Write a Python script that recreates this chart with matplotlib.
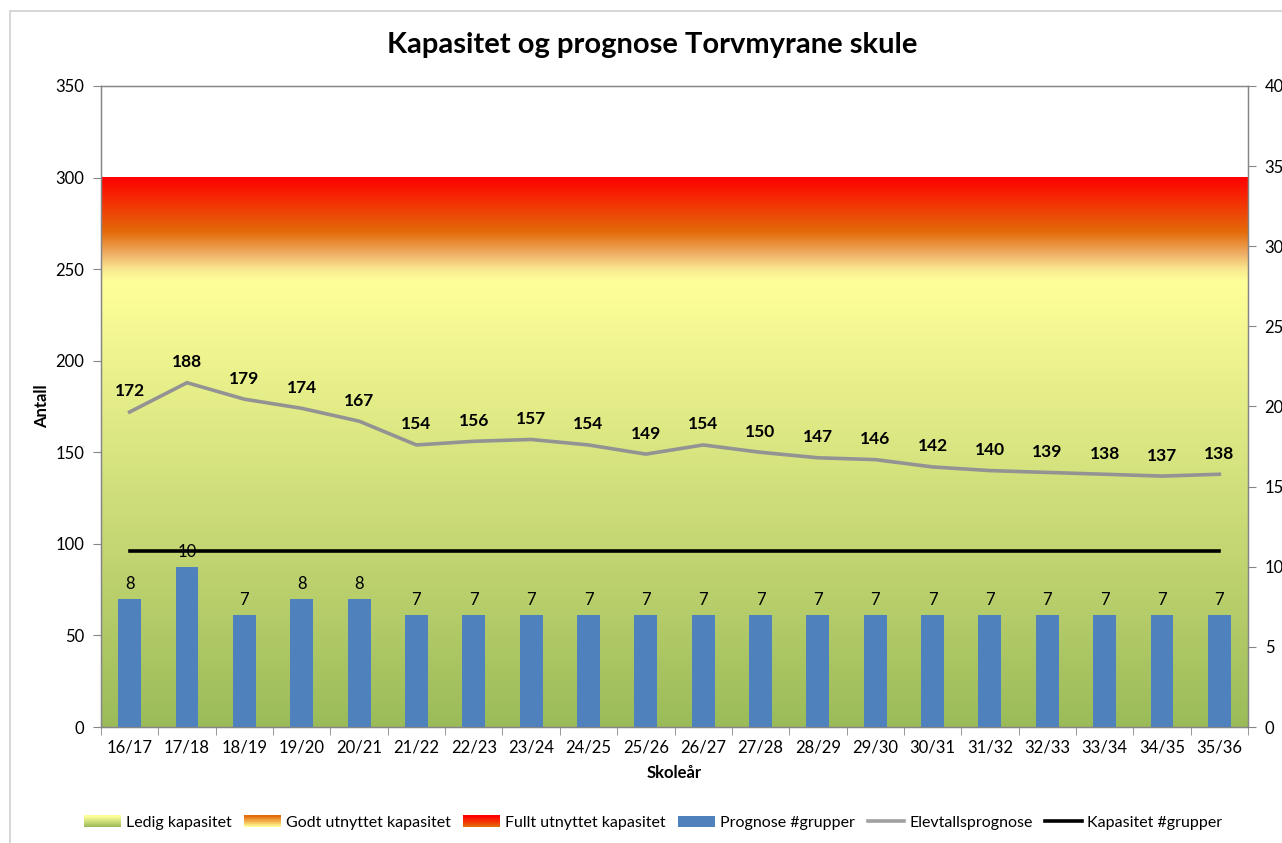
import numpy as np
import matplotlib
matplotlib.use("Agg")
import matplotlib.pyplot as plt
from matplotlib.colors import to_rgb
from matplotlib.patches import Rectangle, Patch
from matplotlib.lines import Line2D
from matplotlib.legend_handler import HandlerBase

plt.rcParams['font.family'] = ['Lato', 'DejaVu Sans']

years = ["16/17", "17/18", "18/19", "19/20", "20/21", "21/22", "22/23", "23/24", "24/25", "25/26",
         "26/27", "27/28", "28/29", "29/30", "30/31", "31/32", "32/33", "33/34", "34/35", "35/36"]
elevtall = [172, 188, 179, 174, 167, 154, 156, 157, 154, 149,
            154, 150, 147, 146, 142, 140, 139, 138, 137, 138]
grupper = [8, 10, 7, 8, 8, 7, 7, 7, 7, 7, 7, 7, 7, 7, 7, 7, 7, 7, 7, 7]
kapasitet_grupper = [11] * len(years)
band_top = 300

W, H = 1282, 843
fig = plt.figure(figsize=(W / 100, H / 100), dpi=100)

# outer chart border
fig.add_artist(Rectangle((10 / W, -0.01), 1.1, 1 - 11 / H + 0.01, transform=fig.transFigure,
                         fill=False, edgecolor='#D0D0D0', linewidth=1.2))

L, R, T, B = 101, 1248, 86, 727
ax = fig.add_axes([L / W, 1 - B / H, (R - L) / W, (B - T) / H])
n = len(years)
x = np.arange(n)

# gradient background (capacity bands)
stops = [(0, '#9BBB59'), (243, '#FFFF99'), (250, '#FAE88E'), (258, '#EFB068'),
         (270, '#E46C0A'), (300, '#FF0000')]
vals = np.linspace(0, band_top, 600)
sv = [s[0] for s in stops]
cols = np.array([to_rgb(s[1]) for s in stops])
img = np.stack([np.interp(vals, sv, cols[:, c]) for c in range(3)], axis=-1)[:, None, :]
ax.imshow(img, extent=[-0.5, n - 0.5, 0, band_top], aspect='auto', origin='lower', zorder=0,
          interpolation='bilinear')

ax.plot(x, elevtall, color='#939393', linewidth=2.6, zorder=3)
for xi, v in zip(x, elevtall):
    ax.annotate(str(v), (xi, v), xytext=(0, 9), textcoords='offset points', ha='center',
                va='bottom', fontsize=12.5, fontweight='bold', color='black', zorder=5)

ax.set_xlim(-0.5, n - 0.5)
ax.set_ylim(0, 350)
ax.set_yticks(range(0, 351, 50))
ax.set_xticks(x)
ax.set_xticklabels(years)
ax.set_xticks(np.arange(-0.5, n, 1), minor=True)
ax.tick_params(axis='x', which='major', length=0, pad=9, labelsize=12)
ax.tick_params(axis='x', which='minor', length=6, color='#868686', direction='out')
ax.tick_params(axis='y', length=6, color='#868686', labelsize=12, pad=6)
for s in ax.spines.values():
    s.set_color('#868686')
    s.set_linewidth(1.0)
ax.set_ylabel('Antall', fontsize=12, fontweight='bold', labelpad=4)
ax.set_xlabel('Skoleår', fontsize=12, fontweight='bold', labelpad=7)

ax2 = ax.twinx()
ax2.set_ylim(0, 40)
ax2.set_yticks(range(0, 41, 5))
ax2.tick_params(axis='y', length=6, color='#868686', labelsize=12, pad=6)
for s in ax2.spines.values():
    s.set_color('#868686')
ax2.bar(x, grupper, width=0.4, color='#4F81BD', zorder=2)
for xi, v in zip(x, grupper):
    ax2.annotate(str(v), (xi, v), xytext=(0, 5), textcoords='offset points', ha='center',
                 va='bottom', fontsize=12, color='black', zorder=4)
ax2.plot(x, kapasitet_grupper, color='black', linewidth=2.6, zorder=6)

fig.text(652 / W, 1 - 45 / H, 'Kapasitet og prognose Torvmyrane skule', ha='center', va='center',
         fontsize=21, fontweight='bold')


class GradHandler(HandlerBase):
    def __init__(self, top, bottom):
        super().__init__()
        self.top = np.array(to_rgb(top))
        self.bottom = np.array(to_rgb(bottom))

    def create_artists(self, legend, orig_handle, xdescent, ydescent, width, height, fontsize, trans):
        k = 16
        arts = []
        for i in range(k):
            f = i / (k - 1)
            c = self.bottom * (1 - f) + self.top * f
            arts.append(Rectangle((-xdescent, -ydescent + i * height / k), width, height / k + 0.3,
                                  facecolor=c, edgecolor='none', transform=trans))
        return arts


h1, h2, h3 = Patch(label='Ledig kapasitet'), Patch(label='Godt utnyttet kapasitet'), Patch(label='Fullt utnyttet kapasitet')
h4 = Patch(facecolor='#4F81BD', label='Prognose #grupper')
h5 = Line2D([], [], color='#A0A0A0', linewidth=2.6, label='Elevtallsprognose')
h6 = Line2D([], [], color='black', linewidth=2.6, label='Kapasitet #grupper')
fig.legend(handles=[h1, h2, h3, h4, h5, h6], loc='center', bbox_to_anchor=(0.5 + 12 / W, 1 - 823 / H),
           ncol=6, frameon=False, fontsize=11.5, handlelength=2.3, handletextpad=0.3,
           columnspacing=0.8,
           handler_map={h1: GradHandler('#FFFF99', '#9BBB59'),
                        h2: GradHandler('#E46C0A', '#FFFF99'),
                        h3: GradHandler('#FF0000', '#E46C0A')})

fig.savefig('out.png', dpi=100)
